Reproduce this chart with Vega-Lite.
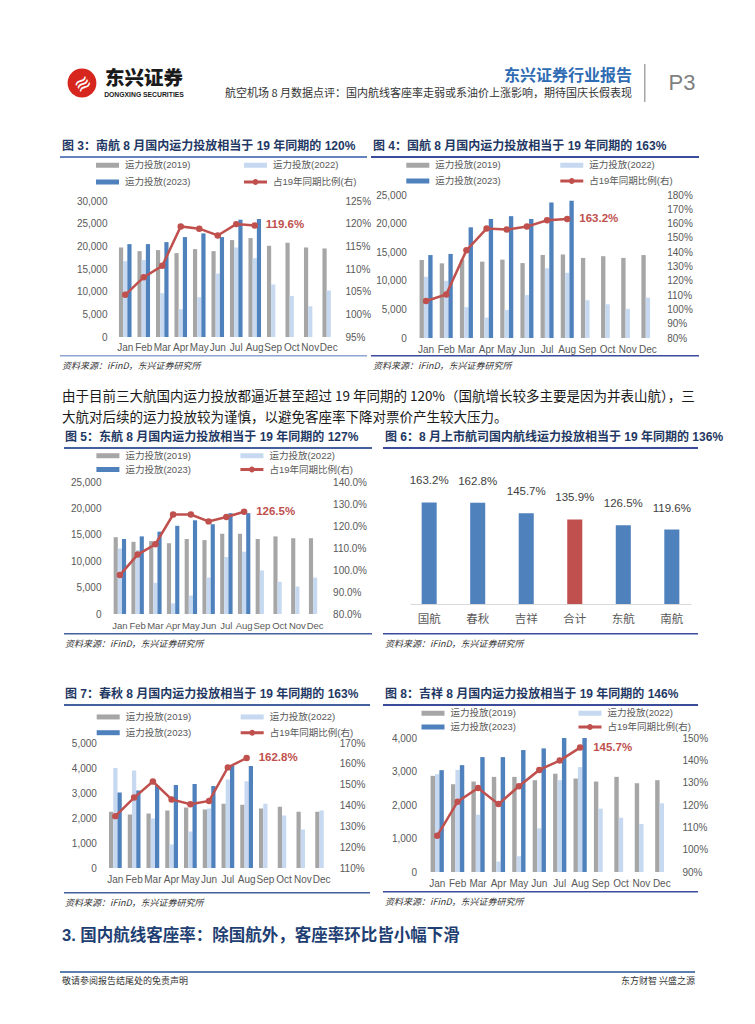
{
  "$schema": "https://vega.github.io/schema/vega-lite/v6.json",
  "background": "white",
  "padding": {"left": 60, "top": 64, "right": 0, "bottom": 0},
  "datasets": {
    "nh": [
      {"m": "Jan", "y2019": 19750, "y2022": 16730, "y2023": 20490, "r": 1.043},
      {"m": "Feb", "y2019": 18940, "y2022": 16950, "y2023": 20490, "r": 1.082},
      {"m": "Mar", "y2019": 19170, "y2022": 9660, "y2023": 20930, "r": 1.107},
      {"m": "Apr", "y2019": 18500, "y2022": 6120, "y2023": 22040, "r": 1.194},
      {"m": "May", "y2019": 19390, "y2022": 8770, "y2023": 22850, "r": 1.189},
      {"m": "Jun", "y2019": 18940, "y2022": 14000, "y2023": 22040, "r": 1.174},
      {"m": "Jul", "y2019": 21380, "y2022": 19750, "y2023": 25870, "r": 1.199},
      {"m": "Aug", "y2019": 21820, "y2022": 17400, "y2023": 26020, "r": 1.196},
      {"m": "Sep", "y2019": 20120, "y2022": 11570},
      {"m": "Oct", "y2019": 20790, "y2022": 9070},
      {"m": "Nov", "y2019": 19750, "y2022": 6780},
      {"m": "Dec", "y2019": 19530, "y2022": 10250}
    ],
    "gh": [
      {"m": "Jan", "y2019": 13640, "y2022": 10700, "y2023": 14500, "r": 1.059},
      {"m": "Feb", "y2019": 13050, "y2022": 10000, "y2023": 14700, "r": 1.105},
      {"m": "Mar", "y2019": 13700, "y2022": 5400, "y2023": 19350, "r": 1.413},
      {"m": "Apr", "y2019": 13350, "y2022": 3550, "y2023": 20800, "r": 1.565},
      {"m": "May", "y2019": 13700, "y2022": 4900, "y2023": 21300, "r": 1.558},
      {"m": "Jun", "y2019": 13100, "y2022": 7500, "y2023": 20800, "r": 1.579},
      {"m": "Jul", "y2019": 14500, "y2022": 12200, "y2023": 23700, "r": 1.623},
      {"m": "Aug", "y2019": 14600, "y2022": 11400, "y2023": 24000, "r": 1.632},
      {"m": "Sep", "y2019": 14000, "y2022": 6600},
      {"m": "Oct", "y2019": 14300, "y2022": 5900},
      {"m": "Nov", "y2019": 14000, "y2022": 5100},
      {"m": "Dec", "y2019": 14500, "y2022": 7050}
    ],
    "dh": [
      {"m": "Jan", "y2019": 14550, "y2022": 12400, "y2023": 14200, "r": 0.977},
      {"m": "Feb", "y2019": 13670, "y2022": 12100, "y2023": 14700, "r": 1.07},
      {"m": "Mar", "y2019": 13800, "y2022": 5900, "y2023": 15600, "r": 1.117},
      {"m": "Apr", "y2019": 13400, "y2022": 2000, "y2023": 16700, "r": 1.252},
      {"m": "May", "y2019": 14200, "y2022": 3500, "y2023": 17750, "r": 1.252},
      {"m": "Jun", "y2019": 14000, "y2022": 6900, "y2023": 17000, "r": 1.221},
      {"m": "Jul", "y2019": 15200, "y2022": 10800, "y2023": 19100, "r": 1.241},
      {"m": "Aug", "y2019": 15200, "y2022": 11800, "y2023": 19100, "r": 1.265},
      {"m": "Sep", "y2019": 14200, "y2022": 8250},
      {"m": "Oct", "y2019": 14700, "y2022": 6100},
      {"m": "Nov", "y2019": 14350, "y2022": 5200},
      {"m": "Dec", "y2019": 14350, "y2022": 6900}
    ],
    "cq": [
      {"m": "Jan", "y2019": 2250, "y2022": 4000, "y2023": 3020, "r": 1.349},
      {"m": "Feb", "y2019": 2140, "y2022": 3900, "y2023": 3100, "r": 1.438},
      {"m": "Mar", "y2019": 2180, "y2022": 1980, "y2023": 3300, "r": 1.515},
      {"m": "Apr", "y2019": 2300, "y2022": 940, "y2023": 3320, "r": 1.429},
      {"m": "May", "y2019": 2420, "y2022": 1460, "y2023": 3360, "r": 1.406},
      {"m": "Jun", "y2019": 2340, "y2022": 2380, "y2023": 3280, "r": 1.422},
      {"m": "Jul", "y2019": 2570, "y2022": 3540, "y2023": 4080, "r": 1.583},
      {"m": "Aug", "y2019": 2530, "y2022": 3470, "y2023": 4080, "r": 1.628},
      {"m": "Sep", "y2019": 2380, "y2022": 2570},
      {"m": "Oct", "y2019": 2450, "y2022": 2100},
      {"m": "Nov", "y2019": 2250, "y2022": 1540},
      {"m": "Dec", "y2019": 2250, "y2022": 2300}
    ],
    "jx": [
      {"m": "Jan", "y2019": 2870, "y2022": 2920, "y2023": 3040, "r": 1.062},
      {"m": "Feb", "y2019": 2620, "y2022": 3050, "y2023": 3190, "r": 1.215},
      {"m": "Mar", "y2019": 2700, "y2022": 1710, "y2023": 3430, "r": 1.276},
      {"m": "Apr", "y2019": 2840, "y2022": 310, "y2023": 3430, "r": 1.204},
      {"m": "May", "y2019": 2840, "y2022": 470, "y2023": 3640, "r": 1.284},
      {"m": "Jun", "y2019": 2740, "y2022": 1300, "y2023": 3690, "r": 1.357},
      {"m": "Jul", "y2019": 2930, "y2022": 2740, "y2023": 4100, "r": 1.399},
      {"m": "Aug", "y2019": 2790, "y2022": 3130, "y2023": 4070, "r": 1.457},
      {"m": "Sep", "y2019": 2700, "y2022": 1890},
      {"m": "Oct", "y2019": 2840, "y2022": 1620},
      {"m": "Nov", "y2019": 2650, "y2022": 1430},
      {"m": "Dec", "y2019": 2740, "y2022": 2050}
    ],
    "tot": [
      {"k": "国航", "v": 1.632},
      {"k": "春秋", "v": 1.628},
      {"k": "吉祥", "v": 1.457},
      {"k": "合计", "v": 1.359},
      {"k": "东航", "v": 1.265},
      {"k": "南航", "v": 1.196}
    ]
  },
  "config": {
    "view": {"stroke": null},
    "axis": {"labelFont": "Liberation Sans", "labelFontSize": 10, "labelColor": "#595959", "domain": false, "ticks": false, "grid": false, "labelOverlap": false},
    "legend": {"labelFont": "Liberation Sans, Noto Sans CJK SC", "labelFontSize": 9.5, "labelColor": "#595959", "symbolSize": 100, "labelOffset": 18, "columns": 2}
  },
  "resolve": {"scale": {"color": "independent", "xOffset": "independent"}, "legend": {"color": "independent"}},
  "spacing": 0,
  "vconcat": [
    {
      "spacing": 0,
      "hconcat": [
        {"width": 44, "height": 38, "data": {"values": [{}]},
         "layer": [
           {"mark": {"type": "point", "filled": true, "size": 830, "color": "#D7261E", "opacity": 1}, "encoding": {}},
           {"mark": {"type": "text", "text": "≋", "fontSize": 20, "color": "white", "angle": -35, "dy": 2, "font": "DejaVu Sans"}, "encoding": {}}
         ]},
        {"width": 76, "height": 38, "data": {"values": [{}]},
         "layer": [
           {"mark": {"type": "text", "text": "东兴证券", "fontSize": 19.5, "fontWeight": 900, "font": "Noto Sans CJK SC", "color": "#1A1A1A", "dy": -4}, "encoding": {}},
           {"mark": {"type": "text", "text": "DONGXING SECURITIES", "fontSize": 6.8, "fontWeight": "bold", "font": "Liberation Sans", "color": "#1A1A1A", "dy": 12}, "encoding": {}}
         ]},
        {
          "spacing": 0,
          "vconcat": [
            {"width": 1, "height": 4, "data": {"values": []}, "mark": "point", "encoding": {}},
            {"width": 460, "height": 1, "data": {"values": []}, "mark": "point", "encoding": {},
             "title": {"text": "东兴证券行业报告", "subtitle": "航空机场 8 月数据点评：国内航线客座率走弱或系油价上涨影响，期待国庆长假表现", "anchor": "end", "dx": -12, "offset": 2, "fontSize": 16, "fontWeight": "bold", "color": "#2E6BB3", "font": "Noto Sans CJK SC", "subtitleFont": "Noto Sans CJK SC", "subtitleFontSize": 11, "subtitleColor": "#333333", "subtitlePadding": 4}}
          ]
        },
        {"width": 1.5, "height": 38, "data": {"values": []}, "mark": "point", "encoding": {}, "view": {"fill": "#A6A6A6", "stroke": null}},
        {"width": 72, "height": 38, "data": {"values": [{}]}, "mark": {"type": "text", "text": "P3", "fontSize": 22, "font": "Liberation Sans", "color": "#7F7F7F"}, "encoding": {}}
      ]
    },
    {"width": 1, "height": 38, "data": {"values": []}, "mark": "point", "encoding": {}},
    {
      "spacing": 0,
      "resolve": {"scale": {"color": "independent", "xOffset": "independent"}, "legend": {"color": "independent"}},
      "hconcat": [
        {
          "spacing": 0,
          "resolve": {"scale": {"color": "independent", "xOffset": "independent"}, "legend": {"color": "independent"}},
          "vconcat": [
            {"width": 307, "height": 2, "data": {"values": []}, "mark": "point", "encoding": {}, "view": {"fill": "#6483BE", "stroke": null},
             "title": {"text": "图 3：南航 8 月国内运力投放相当于 19 年同期的 120%", "anchor": "start", "offset": 3, "dx": 2, "fontSize": 12, "fontWeight": "bold", "color": "#1F3864", "font": "Liberation Sans, Noto Sans CJK SC"}},
            {
              "spacing": 0,
              "resolve": {"scale": {"color": "independent", "xOffset": "independent"}, "legend": {"color": "independent"}},
              "hconcat": [
                {"width": 1, "height": 1, "data": {"values": []}, "mark": "point", "encoding": {}},
                {
                  "width": 222, "height": 136,
                  "data": {"name": "nh"},
                  "layer": [
                    {
                      "transform": [{"fold": ["y2019", "y2022", "y2023"], "as": ["s", "v"]}, {"filter": "isValid(datum.v)"}],
                      "mark": {"type": "bar", "clip": true},
                      "encoding": {
                        "x": {"field": "m", "type": "ordinal", "sort": ["Jan","Feb","Mar","Apr","May","Jun","Jul","Aug","Sep","Oct","Nov","Dec"], "scale": {"paddingInner": 0.32, "paddingOuter": 0.16}, "axis": {"title": null, "labelAngle": 0, "labelPadding": 5, "minExtent": 18}},
                        "xOffset": {"field": "s", "type": "nominal", "scale": {"domain": ["y2019", "y2022", "y2023"], "paddingInner": 0, "paddingOuter": 0}},
                        "y": {"field": "v", "type": "quantitative", "scale": {"domain": [0, 30000], "nice": false}, "axis": {"title": null, "values": [0, 5000, 10000, 15000, 20000, 25000, 30000], "tickCount": 20, "format": ",.0f", "labelPadding": 9, "minExtent": 55, "labelOverlap": false}},
                        "color": {"field": "s", "type": "nominal",
                          "scale": {"domain": ["y2019", "y2023", "y2022", "r"], "range": ["#A6A6A6", "#4F81BD", "#C6D9F0", "#C0504D"]},
                          "legend": {"orient": "none", "legendX": -22, "legendY": -43, "padding": 1, "columnPadding": 50, "rowPadding": 5, "title": null,
                            "labelExpr": "datum.value === 'y2019' ? '运力投放(2019)' : datum.value === 'y2022' ? '运力投放(2022)' : datum.value === 'y2023' ? '运力投放(2023)' : '占19年同期比例(右)'",
                            "encode": {"symbols": {"update": {
                              "shape": {"signal": "datum.value === 'r' ? 'M-1,-0.3L3.6,-0.3L3.6,0.3L-1,0.3Z M1.9,0A0.6,0.6 0 1,1 0.7,0A0.6,0.6 0 1,1 1.9,0Z' : 'M-1,-0.5L3.6,-0.5L3.6,0.5L-1,0.5Z'"},
                              "fill": {"signal": "datum.value === 'y2019' ? '#A6A6A6' : datum.value === 'y2022' ? '#C6D9F0' : datum.value === 'y2023' ? '#4F81BD' : '#C0504D'"},
                              "stroke": {"value": "transparent"}, "opacity": {"value": 1}}}}}}
                      }
                    },
                    {
                      "layer": [
                        {"transform": [{"filter": "isValid(datum.r)"}],
                         "mark": {"type": "line", "color": "#C0504D", "strokeWidth": 2.5, "point": {"filled": true, "size": 42, "color": "#C0504D"}},
                         "encoding": {
                           "x": {"field": "m", "type": "ordinal", "sort": ["Jan","Feb","Mar","Apr","May","Jun","Jul","Aug","Sep","Oct","Nov","Dec"]},
                           "y": {"field": "r", "type": "quantitative", "scale": {"domain": [0.95, 1.25], "nice": false, "zero": false}, "axis": {"orient": "right", "title": null, "values": [0.95, 1, 1.05, 1.1, 1.15, 1.2, 1.25], "tickCount": 20, "format": ".0%", "labelPadding": 7, "labelOverlap": false}}
                         }},
                        {"transform": [{"filter": "datum.m === 'Aug'"}],
                         "mark": {"type": "text", "align": "left", "baseline": "middle", "dx": 11, "fontSize": 11.5, "fontWeight": "bold", "color": "#C0504D", "font": "Liberation Sans"},
                         "encoding": {
                           "x": {"field": "m", "type": "ordinal", "sort": ["Jan","Feb","Mar","Apr","May","Jun","Jul","Aug","Sep","Oct","Nov","Dec"]},
                           "y": {"field": "r", "type": "quantitative"},
                           "text": {"field": "r", "format": ".1%"}
                         }}
                      ]
                    }
                  ],
                  "resolve": {"scale": {"y": "independent"}}
                }
              ]
            },
            {"width": 307, "height": 1.5, "data": {"values": []}, "mark": "point", "encoding": {}, "view": {"fill": "#8EA4D2", "stroke": null},
             "title": {"text": "资料来源：iFinD，东兴证券研究所", "orient": "bottom", "anchor": "start", "offset": 5, "dx": 2, "fontSize": 9, "fontStyle": "italic", "fontWeight": "normal", "color": "#333333", "font": "Noto Sans CJK SC"}}
          ]
        },
        {
          "spacing": 0,
          "resolve": {"scale": {"color": "independent", "xOffset": "independent"}, "legend": {"color": "independent"}},
          "vconcat": [
            {"width": 328, "height": 2, "data": {"values": []}, "mark": "point", "encoding": {}, "view": {"fill": "#3B4C9B", "stroke": null},
             "title": {"text": "图 4：国航 8 月国内运力投放相当于 19 年同期的 163%", "anchor": "start", "offset": 3, "dx": 2, "fontSize": 12, "fontWeight": "bold", "color": "#1F3864", "font": "Liberation Sans, Noto Sans CJK SC"}},
            {
              "spacing": 0,
              "resolve": {"scale": {"color": "independent", "xOffset": "independent"}, "legend": {"color": "independent"}},
              "hconcat": [
                {"width": 1, "height": 1, "data": {"values": []}, "mark": "point", "encoding": {}},
                {
                  "width": 242, "height": 143,
                  "data": {"name": "gh"},
                  "layer": [
                    {
                      "transform": [{"fold": ["y2019", "y2022", "y2023"], "as": ["s", "v"]}, {"filter": "isValid(datum.v)"}],
                      "mark": {"type": "bar", "clip": true},
                      "encoding": {
                        "x": {"field": "m", "type": "ordinal", "sort": ["Jan","Feb","Mar","Apr","May","Jun","Jul","Aug","Sep","Oct","Nov","Dec"], "scale": {"paddingInner": 0.354, "paddingOuter": 0.177}, "axis": {"title": null, "labelAngle": 0, "labelPadding": 6, "minExtent": 17}},
                        "xOffset": {"field": "s", "type": "nominal", "scale": {"domain": ["y2019", "y2022", "y2023"], "paddingInner": 0, "paddingOuter": 0}},
                        "y": {"field": "v", "type": "quantitative", "scale": {"domain": [0, 25000], "nice": false}, "axis": {"title": null, "values": [0, 5000, 10000, 15000, 20000, 25000], "tickCount": 20, "format": ",.0f", "labelPadding": 9.7, "minExtent": 44, "labelOverlap": false}},
                        "color": {"field": "s", "type": "nominal",
                          "scale": {"domain": ["y2019", "y2023", "y2022", "r"], "range": ["#A6A6A6", "#4F81BD", "#C6D9F0", "#C0504D"]},
                          "legend": {"orient": "none", "legendX": -11.7, "legendY": -37, "padding": 1, "columnPadding": 56, "rowPadding": 4, "title": null,
                            "labelExpr": "datum.value === 'y2019' ? '运力投放(2019)' : datum.value === 'y2022' ? '运力投放(2022)' : datum.value === 'y2023' ? '运力投放(2023)' : '占19年同期比例(右)'",
                            "encode": {"symbols": {"update": {
                              "shape": {"signal": "datum.value === 'r' ? 'M-1,-0.3L3.6,-0.3L3.6,0.3L-1,0.3Z M1.9,0A0.6,0.6 0 1,1 0.7,0A0.6,0.6 0 1,1 1.9,0Z' : 'M-1,-0.5L3.6,-0.5L3.6,0.5L-1,0.5Z'"},
                              "fill": {"signal": "datum.value === 'y2019' ? '#A6A6A6' : datum.value === 'y2022' ? '#C6D9F0' : datum.value === 'y2023' ? '#4F81BD' : '#C0504D'"},
                              "stroke": {"value": "transparent"}, "opacity": {"value": 1}}}}}}
                      }
                    },
                    {
                      "layer": [
                        {"transform": [{"filter": "isValid(datum.r)"}],
                         "mark": {"type": "line", "color": "#C0504D", "strokeWidth": 2.5, "point": {"filled": true, "size": 42, "color": "#C0504D"}},
                         "encoding": {
                           "x": {"field": "m", "type": "ordinal", "sort": ["Jan","Feb","Mar","Apr","May","Jun","Jul","Aug","Sep","Oct","Nov","Dec"]},
                           "y": {"field": "r", "type": "quantitative", "scale": {"domain": [0.8, 1.8], "nice": false, "zero": false}, "axis": {"orient": "right", "title": null, "values": [0.8, 0.9, 1, 1.1, 1.2, 1.3, 1.4, 1.5, 1.6, 1.7, 1.8], "tickCount": 20, "format": ".0%", "labelPadding": 8.7, "labelOverlap": false}}
                         }},
                        {"transform": [{"filter": "datum.m === 'Aug'"}],
                         "mark": {"type": "text", "align": "left", "baseline": "middle", "dx": 12, "fontSize": 11.5, "fontWeight": "bold", "color": "#C0504D", "font": "Liberation Sans"},
                         "encoding": {
                           "x": {"field": "m", "type": "ordinal", "sort": ["Jan","Feb","Mar","Apr","May","Jun","Jul","Aug","Sep","Oct","Nov","Dec"]},
                           "y": {"field": "r", "type": "quantitative"},
                           "text": {"field": "r", "format": ".1%"}
                         }}
                      ]
                    }
                  ],
                  "resolve": {"scale": {"y": "independent"}}
                }
              ]
            },
            {"width": 328, "height": 1.5, "data": {"values": []}, "mark": "point", "encoding": {}, "view": {"fill": "#3B4C9B", "stroke": null},
             "title": {"text": "资料来源：iFinD，东兴证券研究所", "orient": "bottom", "anchor": "start", "offset": 5, "dx": 2, "fontSize": 9, "fontStyle": "italic", "fontWeight": "normal", "color": "#333333", "font": "Noto Sans CJK SC"}}
          ]
        }
      ]
    },
    {"width": 1, "height": 18, "data": {"values": []}, "mark": "point", "encoding": {}},
    {"width": 635, "height": 1, "data": {"values": []}, "mark": "point", "encoding": {},
     "title": {"text": ["由于目前三大航国内运力投放都逼近甚至超过 19 年同期的 120%（国航增长较多主要是因为并表山航），三", "大航对后续的运力投放较为谨慎，以避免客座率下降对票价产生较大压力。"], "anchor": "start", "offset": 0, "dx": 2, "fontSize": 13.5, "fontWeight": "normal", "lineHeight": 21, "color": "#1A1A1A", "font": "Noto Sans CJK SC"}},
    {"width": 1, "height": 5.5, "data": {"values": []}, "mark": "point", "encoding": {}},
    {
      "spacing": 0,
      "resolve": {"scale": {"color": "independent", "xOffset": "independent"}, "legend": {"color": "independent"}},
      "hconcat": [
        {"width": 4, "height": 1, "data": {"values": []}, "mark": "point", "encoding": {}},
        {
          "spacing": 0,
          "resolve": {"scale": {"color": "independent", "xOffset": "independent"}, "legend": {"color": "independent"}},
          "vconcat": [
            {"width": 308, "height": 2, "data": {"values": []}, "mark": "point", "encoding": {}, "view": {"fill": "#44609F", "stroke": null},
             "title": {"text": "图 5：东航 8 月国内运力投放相当于 19 年同期的 127%", "anchor": "start", "offset": 3, "dx": 1, "fontSize": 12, "fontWeight": "bold", "color": "#1F3864", "font": "Liberation Sans, Noto Sans CJK SC"}},
            {
              "spacing": 0,
              "resolve": {"scale": {"color": "independent", "xOffset": "independent"}, "legend": {"color": "independent"}},
              "hconcat": [
                {"width": 1, "height": 1, "data": {"values": []}, "mark": "point", "encoding": {}},
                {
                  "width": 213, "height": 132,
                  "data": {"name": "dh"},
                  "layer": [
                    {
                      "transform": [{"fold": ["y2019", "y2022", "y2023"], "as": ["s", "v"]}, {"filter": "isValid(datum.v)"}],
                      "mark": {"type": "bar", "clip": true},
                      "encoding": {
                        "x": {"field": "m", "type": "ordinal", "sort": ["Jan","Feb","Mar","Apr","May","Jun","Jul","Aug","Sep","Oct","Nov","Dec"], "scale": {"paddingInner": 0.3, "paddingOuter": 0.15}, "axis": {"title": null, "labelAngle": 0, "labelPadding": 6, "labelFontSize": 9.5, "minExtent": 19}},
                        "xOffset": {"field": "s", "type": "nominal", "scale": {"domain": ["y2019", "y2022", "y2023"], "paddingInner": 0, "paddingOuter": 0}},
                        "y": {"field": "v", "type": "quantitative", "scale": {"domain": [0, 25000], "nice": false}, "axis": {"title": null, "values": [0, 5000, 10000, 15000, 20000, 25000], "tickCount": 20, "format": ",.0f", "labelPadding": 10, "minExtent": 45.6, "labelOverlap": false}},
                        "color": {"field": "s", "type": "nominal",
                          "scale": {"domain": ["y2019", "y2023", "y2022", "r"], "range": ["#A6A6A6", "#4F81BD", "#C6D9F0", "#C0504D"]},
                          "legend": {"orient": "none", "legendX": -15.6, "legendY": -32.5, "padding": 0, "columnPadding": 46, "rowPadding": 2, "title": null,
                            "labelExpr": "datum.value === 'y2019' ? '运力投放(2019)' : datum.value === 'y2022' ? '运力投放(2022)' : datum.value === 'y2023' ? '运力投放(2023)' : '占19年同期比例(右)'",
                            "encode": {"symbols": {"update": {
                              "shape": {"signal": "datum.value === 'r' ? 'M-1,-0.3L3.6,-0.3L3.6,0.3L-1,0.3Z M1.9,0A0.6,0.6 0 1,1 0.7,0A0.6,0.6 0 1,1 1.9,0Z' : 'M-1,-0.5L3.6,-0.5L3.6,0.5L-1,0.5Z'"},
                              "fill": {"signal": "datum.value === 'y2019' ? '#A6A6A6' : datum.value === 'y2022' ? '#C6D9F0' : datum.value === 'y2023' ? '#4F81BD' : '#C0504D'"},
                              "stroke": {"value": "transparent"}, "opacity": {"value": 1}}}}}}
                      }
                    },
                    {
                      "layer": [
                        {"transform": [{"filter": "isValid(datum.r)"}],
                         "mark": {"type": "line", "color": "#C0504D", "strokeWidth": 2.5, "point": {"filled": true, "size": 42, "color": "#C0504D"}},
                         "encoding": {
                           "x": {"field": "m", "type": "ordinal", "sort": ["Jan","Feb","Mar","Apr","May","Jun","Jul","Aug","Sep","Oct","Nov","Dec"]},
                           "y": {"field": "r", "type": "quantitative", "scale": {"domain": [0.8, 1.4], "nice": false, "zero": false}, "axis": {"orient": "right", "title": null, "values": [0.8, 0.9, 1, 1.1, 1.2, 1.3, 1.4], "tickCount": 20, "format": ".1%", "labelPadding": 8.6, "labelOverlap": false}}
                         }},
                        {"transform": [{"filter": "datum.m === 'Aug'"}],
                         "mark": {"type": "text", "align": "left", "baseline": "middle", "dx": 12, "fontSize": 11.5, "fontWeight": "bold", "color": "#C0504D", "font": "Liberation Sans"},
                         "encoding": {
                           "x": {"field": "m", "type": "ordinal", "sort": ["Jan","Feb","Mar","Apr","May","Jun","Jul","Aug","Sep","Oct","Nov","Dec"]},
                           "y": {"field": "r", "type": "quantitative"},
                           "text": {"field": "r", "format": ".1%"}
                         }}
                      ]
                    }
                  ],
                  "resolve": {"scale": {"y": "independent"}}
                }
              ]
            },
            {"width": 308, "height": 1.5, "data": {"values": []}, "mark": "point", "encoding": {}, "view": {"fill": "#44609F", "stroke": null},
             "title": {"text": "资料来源：iFinD，东兴证券研究所", "orient": "bottom", "anchor": "start", "offset": 5, "dx": 1, "fontSize": 9, "fontStyle": "italic", "fontWeight": "normal", "color": "#333333", "font": "Noto Sans CJK SC"}}
          ]
        },
        {"width": 11, "height": 1, "data": {"values": []}, "mark": "point", "encoding": {}},
        {
          "spacing": 0,
          "vconcat": [
            {"width": 315, "height": 2, "data": {"values": []}, "mark": "point", "encoding": {}, "view": {"fill": "#3B4C9B", "stroke": null},
             "title": {"text": "图 6：8 月上市航司国内航线运力投放相当于 19 年同期的 136%", "anchor": "start", "offset": 3, "dx": 2, "fontSize": 12, "fontWeight": "bold", "color": "#1F3864", "font": "Liberation Sans, Noto Sans CJK SC"}},
            {
              "spacing": 0,
              "hconcat": [
                {"width": 1, "height": 1, "data": {"values": []}, "mark": "point", "encoding": {}},
                {
                  "width": 281, "height": 155,
                  "data": {"name": "tot"},
                  "layer": [
                    {"mark": {"type": "bar"},
                     "encoding": {
                       "x": {"field": "k", "type": "nominal", "sort": null, "scale": {"paddingInner": 0.69, "paddingOuter": 0.24}, "axis": {"title": null, "labelAngle": 0, "labelFont": "Noto Sans CJK SC", "labelFontSize": 11.5, "labelPadding": 9, "domain": true, "domainColor": "#D9D9D9", "domainWidth": 1, "minExtent": 28.5}},
                       "y": {"field": "v", "type": "quantitative", "scale": {"domain": [0, 2.49], "nice": false}, "axis": {"title": null, "labels": false, "minExtent": 26}},
                       "color": {"condition": {"test": "datum.k === '合计'", "value": "#C0504D"}, "value": "#4F81BD"}
                     }},
                    {"mark": {"type": "text", "baseline": "middle", "dy": -21, "fontSize": 11.5, "color": "#404040", "font": "Liberation Sans"},
                     "encoding": {
                       "x": {"field": "k", "type": "nominal", "sort": null},
                       "y": {"field": "v", "type": "quantitative"},
                       "text": {"field": "v", "format": ".1%"}
                     }}
                  ]
                }
              ]
            },
            {"width": 315, "height": 1.5, "data": {"values": []}, "mark": "point", "encoding": {}, "view": {"fill": "#3B4C9B", "stroke": null},
             "title": {"text": "资料来源：iFinD，东兴证券研究所", "orient": "bottom", "anchor": "start", "offset": 5, "dx": 2, "fontSize": 9, "fontStyle": "italic", "fontWeight": "normal", "color": "#333333", "font": "Noto Sans CJK SC"}}
          ]
        }
      ]
    },
    {"width": 1, "height": 38.5, "data": {"values": []}, "mark": "point", "encoding": {}},
    {
      "spacing": 0,
      "resolve": {"scale": {"color": "independent", "xOffset": "independent"}, "legend": {"color": "independent"}},
      "hconcat": [
        {"width": 4, "height": 1, "data": {"values": []}, "mark": "point", "encoding": {}},
        {
          "spacing": 0,
          "resolve": {"scale": {"color": "independent", "xOffset": "independent"}, "legend": {"color": "independent"}},
          "vconcat": [
            {"width": 306, "height": 2, "data": {"values": []}, "mark": "point", "encoding": {}, "view": {"fill": "#44609F", "stroke": null},
             "title": {"text": "图 7：春秋 8 月国内运力投放相当于 19 年同期的 163%", "anchor": "start", "offset": 3, "dx": 1, "fontSize": 12, "fontWeight": "bold", "color": "#1F3864", "font": "Liberation Sans, Noto Sans CJK SC"}},
            {
              "spacing": 0,
              "resolve": {"scale": {"color": "independent", "xOffset": "independent"}, "legend": {"color": "independent"}},
              "hconcat": [
                {"width": 1, "height": 1, "data": {"values": []}, "mark": "point", "encoding": {}},
                {
                  "width": 225, "height": 125,
                  "data": {"name": "cq"},
                  "layer": [
                    {
                      "transform": [{"fold": ["y2019", "y2022", "y2023"], "as": ["s", "v"]}, {"filter": "isValid(datum.v)"}],
                      "mark": {"type": "bar", "clip": true},
                      "encoding": {
                        "x": {"field": "m", "type": "ordinal", "sort": ["Jan","Feb","Mar","Apr","May","Jun","Jul","Aug","Sep","Oct","Nov","Dec"], "scale": {"paddingInner": 0.32, "paddingOuter": 0.16}, "axis": {"title": null, "labelAngle": 0, "labelPadding": 6, "minExtent": 23.3}},
                        "xOffset": {"field": "s", "type": "nominal", "scale": {"domain": ["y2019", "y2022", "y2023"], "paddingInner": 0, "paddingOuter": 0}},
                        "y": {"field": "v", "type": "quantitative", "scale": {"domain": [0, 5000], "nice": false}, "axis": {"title": null, "values": [0, 1000, 2000, 3000, 4000, 5000], "tickCount": 20, "format": ",.0f", "labelPadding": 9.6, "minExtent": 40.3, "labelOverlap": false}},
                        "color": {"field": "s", "type": "nominal",
                          "scale": {"domain": ["y2019", "y2023", "y2022", "r"], "range": ["#A6A6A6", "#4F81BD", "#C6D9F0", "#C0504D"]},
                          "legend": {"orient": "none", "legendX": -14.3, "legendY": -36.3, "padding": 4, "columnPadding": 46, "rowPadding": 4, "title": null,
                            "labelExpr": "datum.value === 'y2019' ? '运力投放(2019)' : datum.value === 'y2022' ? '运力投放(2022)' : datum.value === 'y2023' ? '运力投放(2023)' : '占19年同期比例(右)'",
                            "encode": {"symbols": {"update": {
                              "shape": {"signal": "datum.value === 'r' ? 'M-1,-0.3L3.6,-0.3L3.6,0.3L-1,0.3Z M1.9,0A0.6,0.6 0 1,1 0.7,0A0.6,0.6 0 1,1 1.9,0Z' : 'M-1,-0.5L3.6,-0.5L3.6,0.5L-1,0.5Z'"},
                              "fill": {"signal": "datum.value === 'y2019' ? '#A6A6A6' : datum.value === 'y2022' ? '#C6D9F0' : datum.value === 'y2023' ? '#4F81BD' : '#C0504D'"},
                              "stroke": {"value": "transparent"}, "opacity": {"value": 1}}}}}}
                      }
                    },
                    {
                      "layer": [
                        {"transform": [{"filter": "isValid(datum.r)"}],
                         "mark": {"type": "line", "color": "#C0504D", "strokeWidth": 2.5, "point": {"filled": true, "size": 42, "color": "#C0504D"}},
                         "encoding": {
                           "x": {"field": "m", "type": "ordinal", "sort": ["Jan","Feb","Mar","Apr","May","Jun","Jul","Aug","Sep","Oct","Nov","Dec"]},
                           "y": {"field": "r", "type": "quantitative", "scale": {"domain": [1.1, 1.7], "nice": false, "zero": false}, "axis": {"orient": "right", "title": null, "values": [1.1, 1.2, 1.3, 1.4, 1.5, 1.6, 1.7], "tickCount": 20, "format": ".0%", "labelPadding": 8.3, "labelOverlap": false}}
                         }},
                        {"transform": [{"filter": "datum.m === 'Aug'"}],
                         "mark": {"type": "text", "align": "left", "baseline": "middle", "dx": 12, "fontSize": 11.5, "fontWeight": "bold", "color": "#C0504D", "font": "Liberation Sans"},
                         "encoding": {
                           "x": {"field": "m", "type": "ordinal", "sort": ["Jan","Feb","Mar","Apr","May","Jun","Jul","Aug","Sep","Oct","Nov","Dec"]},
                           "y": {"field": "r", "type": "quantitative"},
                           "text": {"field": "r", "format": ".1%"}
                         }}
                      ]
                    }
                  ],
                  "resolve": {"scale": {"y": "independent"}}
                }
              ]
            },
            {"width": 306, "height": 1.5, "data": {"values": []}, "mark": "point", "encoding": {}, "view": {"fill": "#44609F", "stroke": null},
             "title": {"text": "资料来源：iFinD，东兴证券研究所", "orient": "bottom", "anchor": "start", "offset": 5, "dx": 1, "fontSize": 9, "fontStyle": "italic", "fontWeight": "normal", "color": "#333333", "font": "Noto Sans CJK SC"}}
          ]
        },
        {"width": 13, "height": 1, "data": {"values": []}, "mark": "point", "encoding": {}},
        {
          "spacing": 0,
          "resolve": {"scale": {"color": "independent", "xOffset": "independent"}, "legend": {"color": "independent"}},
          "vconcat": [
            {"width": 315, "height": 2, "data": {"values": []}, "mark": "point", "encoding": {}, "view": {"fill": "#3B4C9B", "stroke": null},
             "title": {"text": "图 8：吉祥 8 月国内运力投放相当于 19 年同期的 146%", "anchor": "start", "offset": 3, "dx": 2, "fontSize": 12, "fontWeight": "bold", "color": "#1F3864", "font": "Liberation Sans, Noto Sans CJK SC"}},
            {
              "spacing": 0,
              "resolve": {"scale": {"color": "independent", "xOffset": "independent"}, "legend": {"color": "independent"}},
              "hconcat": [
                {"width": 1, "height": 1, "data": {"values": []}, "mark": "point", "encoding": {}},
                {
                  "width": 245, "height": 134,
                  "data": {"name": "jx"},
                  "layer": [
                    {
                      "transform": [{"fold": ["y2019", "y2022", "y2023"], "as": ["s", "v"]}, {"filter": "isValid(datum.v)"}],
                      "mark": {"type": "bar", "clip": true},
                      "encoding": {
                        "x": {"field": "m", "type": "ordinal", "sort": ["Jan","Feb","Mar","Apr","May","Jun","Jul","Aug","Sep","Oct","Nov","Dec"], "scale": {"paddingInner": 0.35, "paddingOuter": 0.175}, "axis": {"title": null, "labelAngle": 0, "labelPadding": 6, "minExtent": 19}},
                        "xOffset": {"field": "s", "type": "nominal", "scale": {"domain": ["y2019", "y2022", "y2023"], "paddingInner": 0, "paddingOuter": 0}},
                        "y": {"field": "v", "type": "quantitative", "scale": {"domain": [0, 4000], "nice": false}, "axis": {"title": null, "values": [0, 1000, 2000, 3000, 4000], "tickCount": 20, "format": ",.0f", "labelPadding": 10.5, "minExtent": 42.5, "labelOverlap": false}},
                        "color": {"field": "s", "type": "nominal",
                          "scale": {"domain": ["y2019", "y2023", "y2022", "r"], "range": ["#A6A6A6", "#4F81BD", "#C6D9F0", "#C0504D"]},
                          "legend": {"orient": "none", "legendX": -7.5, "legendY": -32, "padding": 1, "columnPadding": 59, "rowPadding": 2, "title": null,
                            "labelExpr": "datum.value === 'y2019' ? '运力投放(2019)' : datum.value === 'y2022' ? '运力投放(2022)' : datum.value === 'y2023' ? '运力投放(2023)' : '占19年同期比例(右)'",
                            "encode": {"symbols": {"update": {
                              "shape": {"signal": "datum.value === 'r' ? 'M-1,-0.3L3.6,-0.3L3.6,0.3L-1,0.3Z M1.9,0A0.6,0.6 0 1,1 0.7,0A0.6,0.6 0 1,1 1.9,0Z' : 'M-1,-0.5L3.6,-0.5L3.6,0.5L-1,0.5Z'"},
                              "fill": {"signal": "datum.value === 'y2019' ? '#A6A6A6' : datum.value === 'y2022' ? '#C6D9F0' : datum.value === 'y2023' ? '#4F81BD' : '#C0504D'"},
                              "stroke": {"value": "transparent"}, "opacity": {"value": 1}}}}}}
                      }
                    },
                    {
                      "layer": [
                        {"transform": [{"filter": "isValid(datum.r)"}],
                         "mark": {"type": "line", "color": "#C0504D", "strokeWidth": 2.5, "point": {"filled": true, "size": 42, "color": "#C0504D"}},
                         "encoding": {
                           "x": {"field": "m", "type": "ordinal", "sort": ["Jan","Feb","Mar","Apr","May","Jun","Jul","Aug","Sep","Oct","Nov","Dec"]},
                           "y": {"field": "r", "type": "quantitative", "scale": {"domain": [0.9, 1.5], "nice": false, "zero": false}, "axis": {"orient": "right", "title": null, "values": [0.9, 1, 1.1, 1.2, 1.3, 1.4, 1.5], "tickCount": 20, "format": ".0%", "labelPadding": 10, "labelOverlap": false}}
                         }},
                        {"transform": [{"filter": "datum.m === 'Aug'"}],
                         "mark": {"type": "text", "align": "left", "baseline": "middle", "dx": 13, "fontSize": 11.5, "fontWeight": "bold", "color": "#C0504D", "font": "Liberation Sans"},
                         "encoding": {
                           "x": {"field": "m", "type": "ordinal", "sort": ["Jan","Feb","Mar","Apr","May","Jun","Jul","Aug","Sep","Oct","Nov","Dec"]},
                           "y": {"field": "r", "type": "quantitative"},
                           "text": {"field": "r", "format": ".1%"}
                         }}
                      ]
                    }
                  ],
                  "resolve": {"scale": {"y": "independent"}}
                }
              ]
            },
            {"width": 315, "height": 1.5, "data": {"values": []}, "mark": "point", "encoding": {}, "view": {"fill": "#3B4C9B", "stroke": null},
             "title": {"text": "资料来源：iFinD，东兴证券研究所", "orient": "bottom", "anchor": "start", "offset": 5, "dx": 2, "fontSize": 9, "fontStyle": "italic", "fontWeight": "normal", "color": "#333333", "font": "Noto Sans CJK SC"}}
          ]
        }
      ]
    },
    {"width": 1, "height": 19, "data": {"values": []}, "mark": "point", "encoding": {}},
    {"width": 635, "height": 1, "data": {"values": []}, "mark": "point", "encoding": {},
     "title": {"text": "3. 国内航线客座率：除国航外，客座率环比皆小幅下滑", "anchor": "start", "offset": 0, "dx": 2, "fontSize": 16.5, "fontWeight": "bold", "color": "#1F3F73", "font": "Liberation Sans, Noto Sans CJK SC"}},
    {"width": 1, "height": 25.5, "data": {"values": []}, "mark": "point", "encoding": {}},
    {
      "spacing": 0,
      "hconcat": [
        {"width": 318, "height": 2, "data": {"values": []}, "mark": "point", "encoding": {}, "view": {"fill": "#5B7FAF", "stroke": null},
         "title": {"text": "敬请参阅报告结尾处的免责声明", "orient": "bottom", "anchor": "start", "offset": 4, "dx": 2, "fontSize": 9, "fontWeight": "normal", "color": "#333333", "font": "Noto Sans CJK SC"}},
        {"width": 317, "height": 2, "data": {"values": []}, "mark": "point", "encoding": {}, "view": {"fill": "#5B7FAF", "stroke": null},
         "title": {"text": "东方财智 兴盛之源", "orient": "bottom", "anchor": "end", "offset": 4, "fontSize": 9, "fontWeight": "normal", "color": "#333333", "font": "Noto Sans CJK SC"}}
      ]
    }
  ]
}
